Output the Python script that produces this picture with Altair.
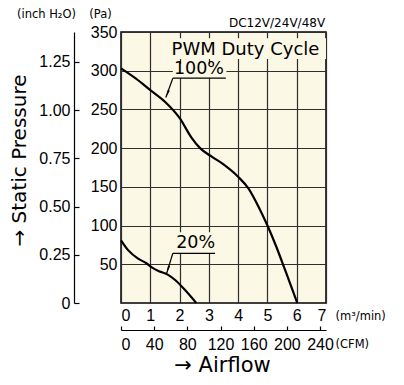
import altair as alt
import pandas as pd

# ---------------- data ----------------
flow_100 = [0, 0.5, 1.0, 1.5, 2.0, 2.4, 2.7, 3.1, 3.5, 4.0, 4.35, 4.7, 5.0, 5.3, 5.6, 6.02]
pa_100 = [303, 290, 275, 260, 239, 214, 200, 189, 179, 163, 148, 124, 100, 73, 43, 0]
flow_20 = [0, 0.25, 0.6, 0.88, 1.05, 1.3, 1.58, 1.84, 2.18, 2.57]
pa_20 = [81, 68, 57, 51, 46, 41, 37, 30, 17, 0]

m3_ticks = [0, 1, 2, 3, 4, 5, 6, 7]
cfm_ticks = [0, 40, 80, 120, 160, 200, 240]
pa_ticks = [50, 100, 150, 200, 250, 300, 350]
inch_ticks = [0, 0.25, 0.5, 0.75, 1.0, 1.25]

PA_PER_INCH = 249.089
CFM_PER_M3 = 35.3147
X_MAX = 7
Y_MAX = 350

# annotations (data coordinates)
label_text = ["PWM Duty Cycle", "100%", "20%"]
label_x = [4.25, 2.66, 2.55]
label_y = [327, 301.8, 77.9]
label_size = [18, 17.5, 17.5]

mask_x = [1.6, 1.77, 1.77]
mask_x2 = [7.0, 3.6, 3.21]
mask_y = [315, 290.6, 64.5]
mask_y2 = [342, 309, 91.3]

under_x = [1.77, 1.77]
under_x2 = [3.58, 3.21]
under_y = [290.3, 64.2]

lead_x = [1.77, 1.77]
lead_y = [290.3, 64.2]
tip_x = [1.53, 1.56]
tip_y = [265.5, 38.4]
tip_angle = [203, 198]

note_text = ["DC12V/24V/48V"]
note_x = [6.97]
note_y = [362]

# ---------------- tables ----------------
curves = pd.DataFrame({
    "flow": flow_100 + flow_20,
    "pa": pa_100 + pa_20,
    "duty": ["100%"] * len(flow_100) + ["20%"] * len(flow_20),
})
labels = pd.DataFrame({"t": label_text, "x": label_x, "y": label_y, "s": label_size})
masks = pd.DataFrame({"x": mask_x, "x2": mask_x2, "y": mask_y, "y2": mask_y2})
unders = pd.DataFrame({"x": under_x, "x2": under_x2, "y": under_y})
leads = pd.DataFrame({"x": lead_x, "y": lead_y, "x2": tip_x, "y2": tip_y})
tips = pd.DataFrame({"x": tip_x, "y": tip_y, "a": tip_angle})
notes = pd.DataFrame({"t": note_text, "x": note_x, "y": note_y})
sec = pd.DataFrame({"cfm": [0], "inch": [0]})

CREAM = "#fcf8e6"
GRID = "#2e2e2e"
NUM = "Liberation Sans"
SANS = "DejaVu Sans"
NUM_SIZE = 16
UNIT_SIZE = 11.5


def xs():
    return alt.Scale(domain=[0, X_MAX], nice=False, zero=False)


def ys():
    return alt.Scale(domain=[0, Y_MAX], nice=False, zero=False)


cfm_scale = alt.Scale(domain=[0, X_MAX * CFM_PER_M3], nice=False, zero=False)
inch_scale = alt.Scale(domain=[0, Y_MAX / PA_PER_INCH], nice=False, zero=False)

x_axis = alt.Axis(
    orient="bottom", values=m3_ticks, grid=True, gridColor=GRID, gridWidth=1.2,
    domain=False, ticks=False, labelFont=NUM, labelFontSize=NUM_SIZE,
    labelPadding=4, labelColor="black",
    title="(m³/min)", titleFont=SANS, titleFontSize=UNIT_SIZE, titleFontWeight="normal",
    titleX=214, titleY=13, titleAlign="left", titleBaseline="middle", titleColor="black",
    titleLimit=300,
)
y_axis = alt.Axis(
    orient="left", values=pa_ticks, grid=True, gridColor=GRID, gridWidth=1.2,
    domain=False, ticks=False, labelFont=NUM, labelFontSize=NUM_SIZE,
    labelPadding=4, labelColor="black",
    title="(Pa)", titleFont=SANS, titleFontSize=UNIT_SIZE, titleFontWeight="normal",
    titleAngle=0, titleX=-21, titleY=-17.5, titleAlign="center", titleBaseline="middle",
    titleColor="black", titleLimit=300,
)

line_layer = alt.Chart(curves).mark_line(
    color="black", strokeWidth=2.2, interpolate="monotone"
).encode(
    x=alt.X("flow:Q", scale=xs(), axis=x_axis),
    y=alt.Y("pa:Q", scale=ys(), axis=y_axis),
    detail="duty:N",
)

mask_layer = alt.Chart(masks).mark_rect(color=CREAM).encode(
    x=alt.X("x:Q", scale=xs(), axis=None), x2="x2:Q",
    y=alt.Y("y:Q", scale=ys(), axis=None), y2="y2:Q",
)

label_layer = alt.Chart(labels).mark_text(
    font=SANS, color="black", align="center", baseline="middle"
).encode(
    x=alt.X("x:Q", scale=xs(), axis=None),
    y=alt.Y("y:Q", scale=ys(), axis=None),
    text="t:N",
    size=alt.Size("s:Q", scale=None, legend=None),
)

note_layer = alt.Chart(notes).mark_text(
    font=SANS, fontSize=12, color="black", align="right", baseline="middle"
).encode(
    x=alt.X("x:Q", scale=xs(), axis=None),
    y=alt.Y("y:Q", scale=ys(), axis=None),
    text="t:N",
)

under_layer = alt.Chart(unders).mark_rule(color="black", strokeWidth=1.2).encode(
    x=alt.X("x:Q", scale=xs(), axis=None), x2="x2:Q",
    y=alt.Y("y:Q", scale=ys(), axis=None),
)

lead_layer = alt.Chart(leads).mark_rule(color="black", strokeWidth=1.2).encode(
    x=alt.X("x:Q", scale=xs(), axis=None), x2="x2:Q",
    y=alt.Y("y:Q", scale=ys(), axis=None), y2="y2:Q",
)

tip_layer = alt.Chart(tips).mark_point(
    shape="M0,0L0.28,2L-0.28,2Z", filled=True, color="black", opacity=1, size=60
).encode(
    x=alt.X("x:Q", scale=xs(), axis=None),
    y=alt.Y("y:Q", scale=ys(), axis=None),
    angle=alt.Angle("a:Q", scale=None),
)

sec_labels = alt.Chart(sec).mark_point(opacity=0).encode(
    x=alt.X("cfm:Q", scale=cfm_scale, axis=alt.Axis(
        orient="bottom", offset=27, values=cfm_ticks, grid=False,
        domain=True, domainColor="black", domainWidth=1.2, ticks=False,
        labelFont=NUM, labelFontSize=NUM_SIZE, labelPadding=6, labelColor="black",
        title="(CFM)", titleFont=SANS, titleFontSize=UNIT_SIZE, titleFontWeight="normal",
        titleX=214, titleY=14, titleAlign="left", titleBaseline="middle", titleColor="black",
        titleLimit=300,
    )),
    y=alt.Y("inch:Q", scale=inch_scale, axis=alt.Axis(
        orient="left", offset=47, values=inch_ticks, grid=False,
        domain=True, domainColor="black", domainWidth=1.2, ticks=False,
        labelFont=NUM, labelFontSize=NUM_SIZE, labelPadding=4, labelColor="black",
        labelExpr="datum.value == 0 ? '0' : format(datum.value, '.2f')",
        title="→ Static Pressure", titleFont=SANS, titleFontSize=20,
        titleFontWeight="normal", titleAngle=270, titleX=-55, titleY=128,
        titleAlign="center", titleBaseline="middle", titleColor="black",
        titleLimit=400,
    )),
)

sec_ticks = alt.Chart(sec).mark_point(opacity=0).encode(
    x=alt.X("cfm:Q", scale=cfm_scale, axis=alt.Axis(
        orient="top", offset=-298, values=cfm_ticks, grid=False,
        domain=False, ticks=True, tickSize=4, tickColor="black", tickWidth=1.2,
        labels=False,
        title="→ Airflow", titleFont=SANS, titleFontSize=21, titleFontWeight="normal",
        titleX=101, titleY=35, titleAlign="center", titleBaseline="middle",
        titleColor="black", titleLimit=300,
    )),
    y=alt.Y("inch:Q", scale=inch_scale, axis=alt.Axis(
        orient="right", offset=-252, values=inch_ticks, grid=False,
        domain=False, ticks=True, tickSize=5, tickColor="black", tickWidth=1.2,
        labels=False,
        title="(inch H₂O)", titleFont=SANS, titleFontSize=UNIT_SIZE,
        titleFontWeight="normal", titleAngle=0, titleX=-28, titleY=-17.5,
        titleAlign="center", titleBaseline="middle", titleColor="black",
        titleLimit=300,
    )),
)

chart = alt.layer(
    line_layer, mask_layer, label_layer, note_layer, under_layer, lead_layer,
    tip_layer, sec_labels, sec_ticks
).resolve_scale(
    x="independent", y="independent"
).properties(
    width=205, height=271,
    background="white",
    autosize=alt.AutoSizeParams(type="none"),
    padding={"left": 113, "top": 24, "right": 70, "bottom": 70},
).configure_view(
    fill=CREAM, stroke="black", strokeWidth=1.5
)

chart.save("out.html", embed_options={"renderer": "svg", "actions": False})
